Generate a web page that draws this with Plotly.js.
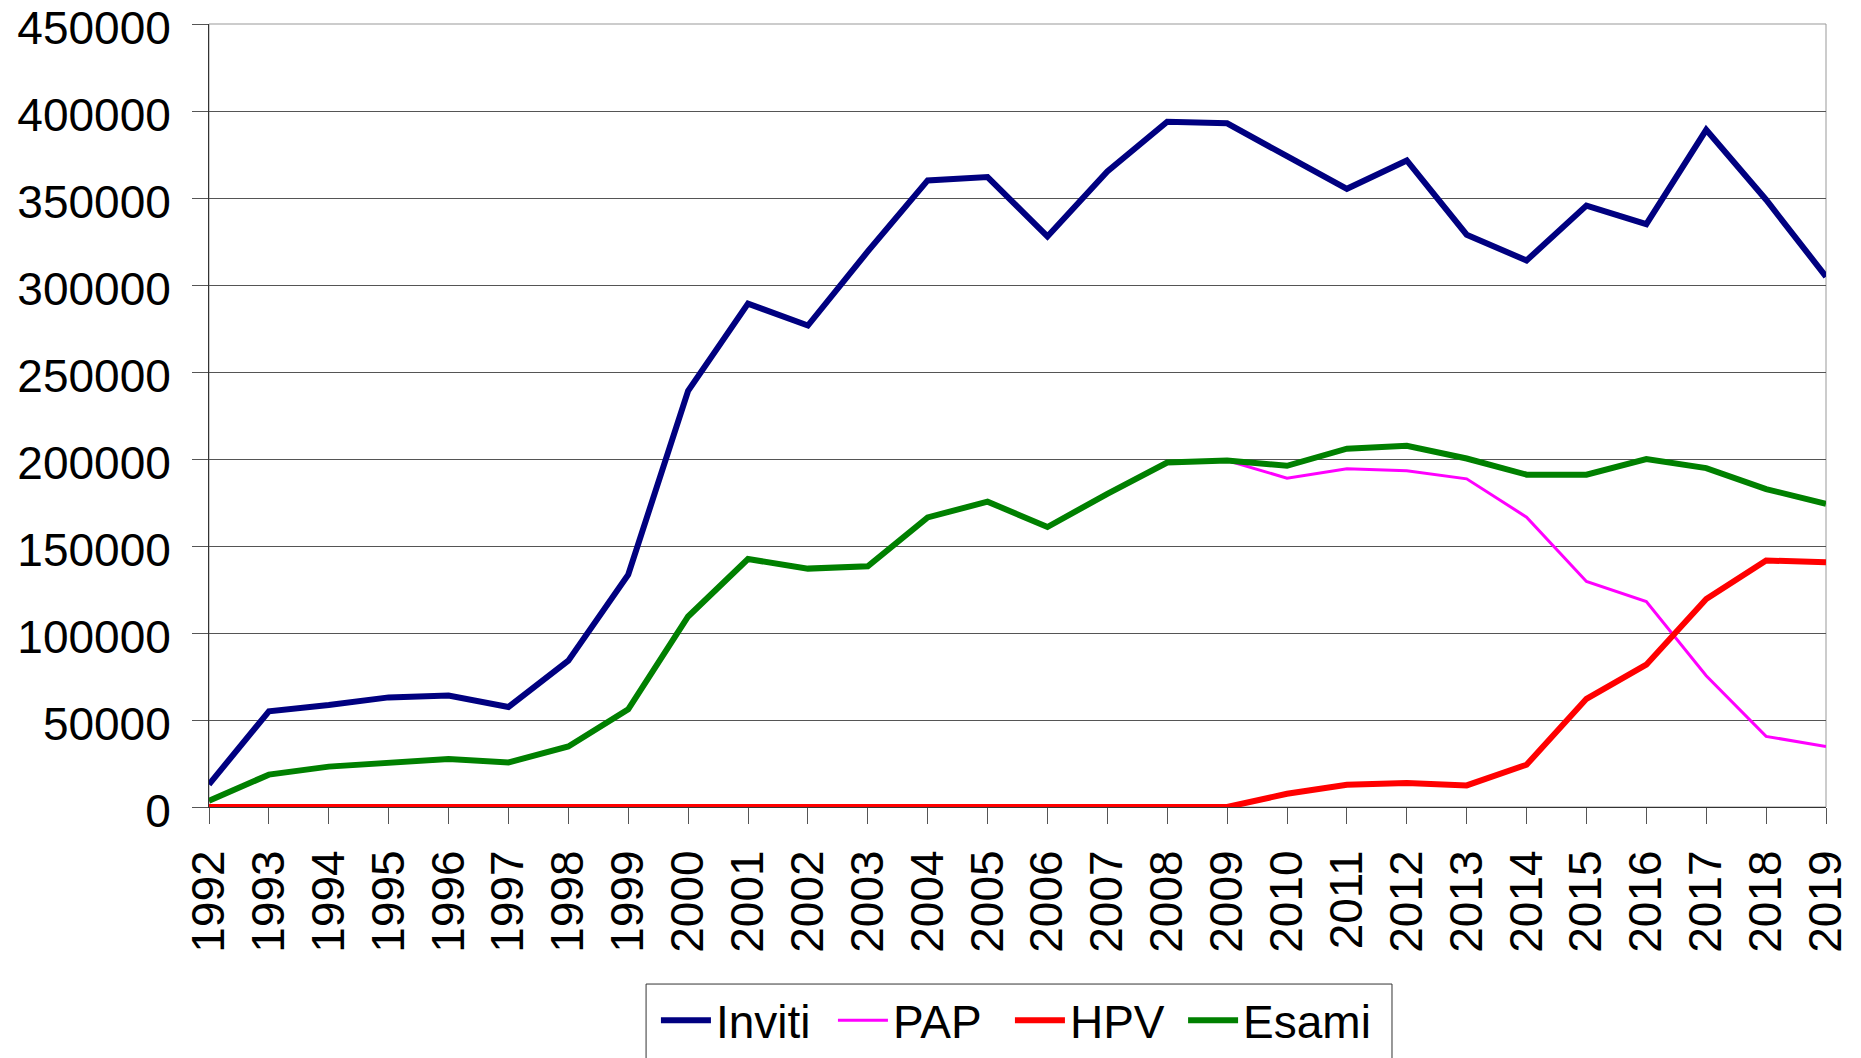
<!DOCTYPE html>
<html>
<head>
<meta charset="utf-8">
<script src="https://cdn.plot.ly/plotly-3.0.1.min.js"></script>
<style>html,body{margin:0;padding:0;background:#fff;}#chart{width:1861px;height:1058px;}</style>
</head>
<body>
<div id="chart"></div>
<script>
const years = ["1992","1993","1994","1995","1996","1997","1998","1999","2000","2001","2002","2003","2004","2005","2006","2007","2008","2009","2010","2011","2012","2013","2014","2015","2016","2017","2018","2019"];
const yTicks = [0,50000,100000,150000,200000,250000,300000,350000,400000,450000];
const inviti = [13000,55000,58600,63000,64100,57500,84100,133500,239200,289300,276700,319300,360100,362000,327900,365300,393800,392900,374000,355300,371600,328900,314100,345600,335000,389200,349000,304800];
const pap = [3600,18600,23200,25300,27600,25600,34800,56100,109500,142500,137000,138300,166400,175500,160900,180000,198000,199100,189000,194400,193200,188600,166600,129600,118100,75400,40600,34800];
const hpv = [0,0,0,0,0,0,0,0,0,0,0,0,0,0,0,0,0,0,7600,12800,13800,12400,24300,62200,81800,119500,141700,140600];
const esami = [3600,18600,23200,25300,27600,25600,34800,56100,109500,142500,137000,138300,166400,175500,160900,180000,198000,199100,196100,205900,207600,200300,191000,191000,200000,194800,182700,174300];

const FONT = "Arial, 'Liberation Sans', sans-serif";
const traces = [
  {name: "Inviti", y: inviti, color: "#000080", w: 6, lg: "legend"},
  {name: "PAP", y: pap, color: "#FF00FF", w: 3, lg: "legend"},
  {name: "HPV", y: hpv, color: "#FF0000", w: 6, lg: "legend"},
  {name: "Esami", y: esami, color: "#008000", w: 6, lg: "legend2"}
].map(t => ({
  type: "scatter", mode: "lines", name: t.name, x: years, y: t.y, legend: t.lg,
  line: {color: t.color, width: t.w, shape: "linear"},
  hoverinfo: "x+y+name"
}));

const legendCommon = {
  orientation: "h", xanchor: "left", y: -0.226, yanchor: "top",
  bgcolor: "rgba(0,0,0,0)", borderwidth: 0,
  itemwidth: 50,
  font: {family: FONT, size: 46, color: "#000"}
};

const layout = {
  width: 1861, height: 1058,
  margin: {l: 209, r: 35, t: 24, b: 251, autoexpand: false},
  paper_bgcolor: "#ffffff", plot_bgcolor: "#ffffff",
  font: {family: FONT, size: 46, color: "#000"},
  showlegend: true,
  xaxis: {
    type: "category", range: [0, years.length - 1],
    tickmode: "linear", dtick: 1,
    tickangle: -90, ticks: "outside", ticklen: 16, tickwidth: 1, tickcolor: "#555",
    showgrid: false, zeroline: false,
    showline: true, linecolor: "#333", linewidth: 1,
    ticklabelstandoff: 8,
    tickfont: {family: FONT, size: 46, color: "#000"}
  },
  yaxis: {
    range: [0, 450000.5], tickmode: "array", tickvals: yTicks, tickformat: "d",
    ticks: "outside", ticklen: 16, tickwidth: 1, tickcolor: "#555",
    showgrid: true, gridcolor: "#555", gridwidth: 1,
    zeroline: false, showline: true, linecolor: "#333", linewidth: 1,
    ticklabelstandoff: 12, ticklabeloverflow: "allow", ticklabelshift: 4,
    tickfont: {family: FONT, size: 46, color: "#000"}
  },
  shapes: [
    {type: "rect", xref: "paper", yref: "paper", x0: 0, x1: 1, y0: 0, y1: 1,
     line: {color: "#999", width: 1}, layer: "below"},
    {type: "rect", xref: "paper", yref: "paper", x0: 0.2703, x1: 0.7316, y0: -0.2261, y1: -0.40,
     line: {color: "#333", width: 1}, fillcolor: "#fff", layer: "below"}
  ],
  legend: Object.assign({}, legendCommon, {x: 0.2764, entrywidth: 112, entrywidthmode: "pixels"}),
  legend2: Object.assign({}, legendCommon, {x: 0.6024})
};

Plotly.newPlot("chart", traces, layout, {displayModeBar: false, staticPlot: true});
</script>
</body>
</html>
